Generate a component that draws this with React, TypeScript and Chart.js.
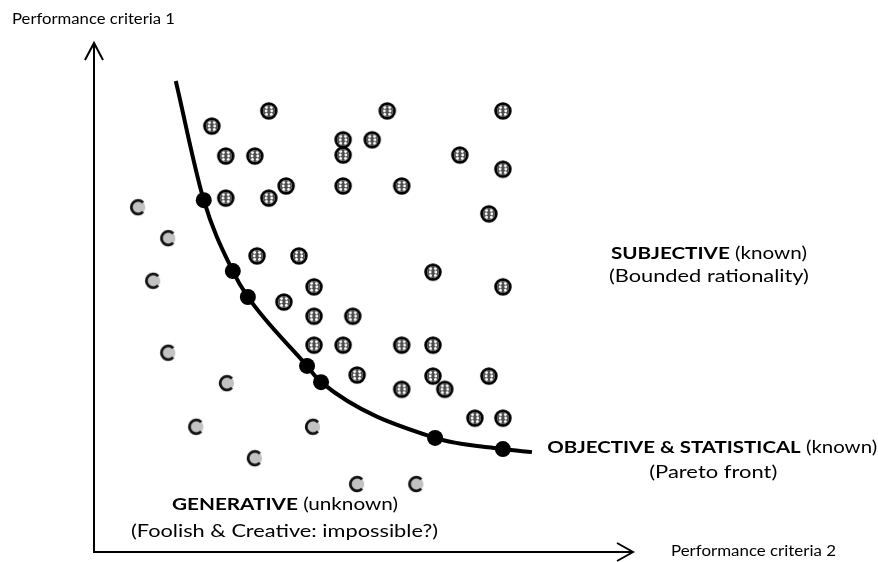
import React, { useEffect, useRef } from "react";
import { Chart, registerables } from "chart.js";

Chart.register(...registerables);

// ---------- DATA (criteria 2 on x, criteria 1 on y, 0..100 units) ----------
const subjectiveSolutions: [number, number][] = [
  [32.5, 87.0], [54.5, 87.0], [76.0, 87.0], [21.9, 84.0],
  [24.5, 78.1], [29.9, 78.1], [46.3, 81.3], [51.7, 81.3], [46.3, 78.3], [68.0, 78.3],
  [76.0, 75.5], [35.7, 72.2], [46.3, 72.2], [57.2, 72.2], [24.5, 69.8], [32.5, 69.8],
  [73.4, 66.7], [30.3, 58.4], [38.1, 58.4], [63.0, 55.2], [76.0, 52.3], [40.9, 52.3],
  [35.3, 49.3], [40.9, 46.5], [48.1, 46.5], [40.9, 40.8], [46.3, 40.8], [57.2, 40.8],
  [63.0, 40.8], [48.9, 34.9], [63.0, 34.7], [73.4, 34.7], [57.2, 32.1], [65.2, 32.1],
  [70.8, 26.4], [76.0, 26.4],
];

const generativeSolutions: [number, number][] = [
  [8.2, 68.0], [13.8, 61.9], [11.0, 53.5], [13.8, 39.3], [24.7, 33.3],
  [19.0, 24.7], [40.7, 24.7], [29.9, 18.5], [48.9, 13.4], [59.9, 13.4],
];

const paretoSolutions: [number, number][] = [
  [20.4, 69.4], [25.8, 55.4], [28.6, 50.3], [39.6, 36.7],
  [42.2, 33.5], [63.4, 22.5], [76.0, 20.3],
];

const paretoFront: [number, number][] = [
  [15.2, 92.9], [20.4, 69.4], [25.8, 55.4], [28.6, 50.3], [39.6, 36.7],
  [42.2, 33.5], [63.4, 22.5], [76.0, 20.3], [81.4, 19.7],
];

const regionTitles = ["SUBJECTIVE", "OBJECTIVE & STATISTICAL", "GENERATIVE"];
const regionStatus = [" (known)", " (known)", " (unknown)"];
const regionNotes = ["(Bounded rationality)", "(Pareto front)", "(Foolish & Creative: impossible?)"];
const axisTitles = ["Performance criteria 1", "Performance criteria 2"];

// ---------- LAYOUT ----------
const LAYOUT = {
  titleAnchors: [[114.3, 57.8], [114.9, 19.5], [35.5, 8.3]],
  titleWidths: [196, 330, 226],
  noteAnchors: [[114.3, 53.3], [115.1, 14.6], [35.4, 3.0]],
  noteWidths: [200, 128, 307],
  regionFontSize: 17.5,
  axisFontSize: 14.5,
  font: "Lato, 'Open Sans', sans-serif",
};

const toPts = (arr: [number, number][]) => arr.map(([x, y]) => ({ x, y }));

function makeHatched(): HTMLCanvasElement {
  const c = document.createElement("canvas");
  c.width = 22;
  c.height = 22;
  const g = c.getContext("2d")!;
  g.beginPath();
  g.arc(11, 11, 7.4, 0, Math.PI * 2);
  g.fillStyle = "#fff";
  g.fill();
  g.lineWidth = 2.7;
  g.strokeStyle = "#000";
  g.stroke();
  // dotted inner texture
  g.save();
  g.beginPath();
  g.arc(11, 11, 6.0, 0, Math.PI * 2);
  g.clip();
  g.fillStyle = "#4a4a4a";
  g.fillRect(5, 5, 12, 12);
  g.fillStyle = "#fff";
  const holes = [
    [8.6, 7.6], [13.4, 7.6],
    [8.2, 11], [13.8, 11],
    [8.6, 14.4], [13.4, 14.4],
  ];
  holes.forEach(([hx, hy]) => {
    g.beginPath();
    g.arc(hx, hy, 1.45, 0, Math.PI * 2);
    g.fill();
  });
  g.restore();
  return c;
}

function makeC(): HTMLCanvasElement {
  const c = document.createElement("canvas");
  c.width = 22;
  c.height = 22;
  const g = c.getContext("2d")!;
  g.beginPath();
  g.arc(11, 11, 7.2, 0, Math.PI * 2);
  g.fillStyle = "#c2c2c2";
  g.fill();
  g.beginPath();
  g.arc(11, 11, 6.8, 0.24 * Math.PI, 1.76 * Math.PI);
  g.lineWidth = 2.8;
  g.strokeStyle = "#111";
  g.stroke();
  return c;
}

function drawParts(
  ctx: CanvasRenderingContext2D,
  parts: { text: string; bold: boolean }[],
  anchorX: number,
  baseline: number,
  size: number,
  targetWidth: number,
  align: "center" | "left"
) {
  const fontOf = (b: boolean) => `${b ? "bold " : ""}${size}px ${LAYOUT.font}`;
  let total = 0;
  const widths = parts.map((p) => {
    ctx.font = fontOf(p.bold);
    const w = ctx.measureText(p.text).width;
    total += w;
    return w;
  });
  const sx = targetWidth / total;
  const start = align === "center" ? anchorX - targetWidth / 2 : anchorX;
  ctx.save();
  ctx.translate(start, baseline);
  ctx.scale(sx, 1);
  ctx.textBaseline = "alphabetic";
  ctx.textAlign = "left";
  ctx.fillStyle = "#000";
  let x = 0;
  parts.forEach((p, i) => {
    ctx.font = fontOf(p.bold);
    ctx.fillText(p.text, x, 0);
    x += widths[i];
  });
  ctx.restore();
}

const diagramPlugin = {
  id: "diagram",
  beforeDatasetsDraw(chart: any) {
    const { ctx, chartArea } = chart;
    const { left, right, top, bottom } = chartArea;
    ctx.save();
    ctx.strokeStyle = "#000";
    ctx.lineWidth = 2;
    ctx.lineCap = "butt";
    ctx.beginPath();
    ctx.moveTo(left, bottom + 1);
    ctx.lineTo(left, top - 2);
    ctx.moveTo(left - 1, bottom);
    ctx.lineTo(right + 1, bottom);
    ctx.stroke();
    ctx.lineJoin = "miter";
    ctx.beginPath();
    ctx.moveTo(left - 9, top + 15);
    ctx.lineTo(left, top - 2);
    ctx.lineTo(left + 9, top + 15);
    ctx.moveTo(right - 15, bottom - 9);
    ctx.lineTo(right + 1, bottom);
    ctx.lineTo(right - 15, bottom + 9);
    ctx.stroke();
    ctx.restore();
  },
  afterDraw(chart: any) {
    const { ctx, chartArea, scales } = chart;
    const xs = scales.x;
    const ys = scales.y;
    regionTitles.forEach((t, i) => {
      const [ax, ay] = LAYOUT.titleAnchors[i];
      drawParts(
        ctx,
        [
          { text: t, bold: true },
          { text: regionStatus[i], bold: false },
        ],
        xs.getPixelForValue(ax),
        ys.getPixelForValue(ay),
        LAYOUT.regionFontSize,
        LAYOUT.titleWidths[i],
        "center"
      );
      const [nx, ny] = LAYOUT.noteAnchors[i];
      drawParts(
        ctx,
        [{ text: regionNotes[i], bold: false }],
        xs.getPixelForValue(nx),
        ys.getPixelForValue(ny),
        LAYOUT.regionFontSize,
        LAYOUT.noteWidths[i],
        "center"
      );
    });
    drawParts(
      ctx,
      [{ text: axisTitles[0], bold: false }],
      chartArea.left - 82,
      chartArea.top - 21,
      LAYOUT.axisFontSize,
      163,
      "left"
    );
    drawParts(
      ctx,
      [{ text: axisTitles[1], bold: false }],
      chartArea.right + 39,
      chartArea.bottom + 4,
      LAYOUT.axisFontSize,
      165,
      "left"
    );
  },
};

export default function App() {
  const ref = useRef<HTMLCanvasElement | null>(null);

  useEffect(() => {
    document.body.style.margin = "0";
    const hatched = makeHatched();
    const cPoint = makeC();
    const chart = new Chart(ref.current!, {
      type: "scatter",
      data: {
        datasets: [
          {
            label: "Pareto solutions",
            data: toPts(paretoSolutions),
            pointRadius: 8,
            pointHoverRadius: 8,
            backgroundColor: "#000",
            borderWidth: 0,
            clip: false,
          } as any,
          {
            label: "Pareto front",
            data: toPts(paretoFront),
            showLine: true,
            cubicInterpolationMode: "monotone",
            borderColor: "#000",
            borderWidth: 4,
            pointRadius: 0,
            pointHoverRadius: 0,
            fill: false,
            clip: false,
          } as any,
          {
            label: "Subjective",
            data: toPts(subjectiveSolutions),
            pointStyle: hatched,
            pointRadius: 8,
            clip: false,
          } as any,
          {
            label: "Generative",
            data: toPts(generativeSolutions),
            pointStyle: cPoint,
            pointRadius: 8,
            clip: false,
          } as any,
        ],
      },
      options: {
        responsive: false,
        animation: false,
        devicePixelRatio: 1,
        layout: { padding: { left: 94, right: 246, top: 45, bottom: 10 } },
        scales: {
          x: { type: "linear", min: 0, max: 100, display: false },
          y: { type: "linear", min: 0, max: 100, display: false },
        },
        plugins: {
          legend: { display: false },
          tooltip: { enabled: false },
        },
        events: [],
      },
      plugins: [diagramPlugin],
    });
    return () => chart.destroy();
  }, []);

  return (
    <div style={{ position: "absolute", left: 0, top: 0, width: 878, height: 562, background: "#fff" }}>
      <canvas ref={ref} width={878} height={562} style={{ display: "block" }} />
    </div>
  );
}
